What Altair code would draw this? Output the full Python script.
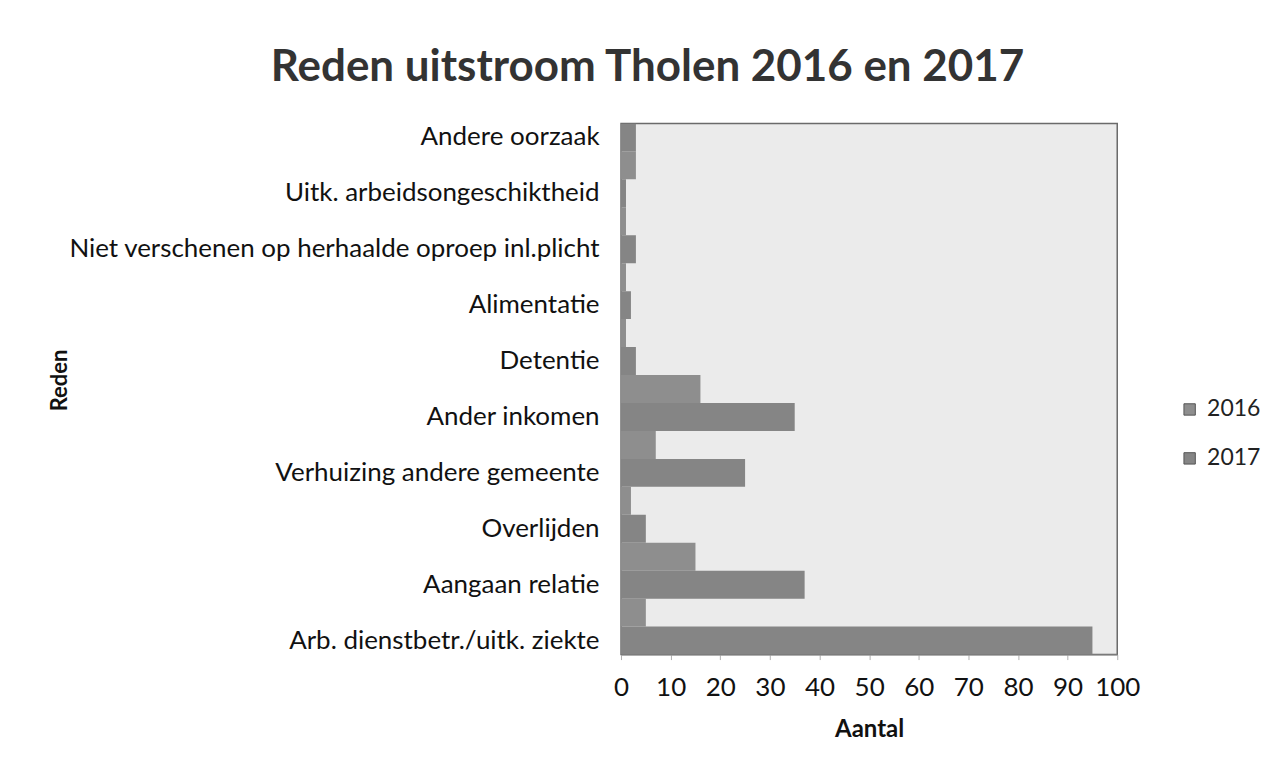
import altair as alt
import pandas as pd

categories = [
    "Andere oorzaak",
    "Uitk. arbeidsongeschiktheid",
    "Niet verschenen op herhaalde oproep inl.plicht",
    "Alimentatie",
    "Detentie",
    "Ander inkomen",
    "Verhuizing andere gemeente",
    "Overlijden",
    "Aangaan relatie",
    "Arb. dienstbetr./uitk. ziekte",
]
years = ["2016", "2017"]
values_2016 = [None, 3, 1, 1, 1, 16, 7, 2, 15, 5]
values_2017 = [3, 1, 3, 2, 3, 35, 25, 5, 37, 95]
x_ticks = list(range(0, 101, 10))
bar_colors = ["#8e8e8e", "#858585"]

rows = []
for c, a, b in zip(categories, values_2016, values_2017):
    rows.append({"Reden": c, "Jaar": "2016", "Aantal": a})
    rows.append({"Reden": c, "Jaar": "2017", "Aantal": b})
df = pd.DataFrame(rows)

W, H = 497, 532

bars = alt.Chart(df).mark_bar(clip=True).encode(
    x=alt.X(
        "Aantal:Q",
        scale=alt.Scale(domain=[0, 100], nice=False),
        axis=alt.Axis(
            values=x_ticks, title="Aantal", grid=False,
            labelFontSize=26, labelColor="#111111", labelPadding=15,
            tickSize=5, tickColor="#b0b0b0", domainColor="#909090",
            titleFontSize=24, titleFontWeight="bold", titleColor="#111111",
            titlePadding=17, labelFlush=False,
        ),
    ),
    y=alt.Y(
        "Reden:N",
        sort=categories,
        scale=alt.Scale(range=[-28, H], paddingInner=0, paddingOuter=0),
        axis=alt.Axis(
            title="Reden", domain=False, ticks=False, labelOffset=14,
            labelFontSize=26, labelColor="#111111", labelLimit=700,
            labelPadding=22, titleFontSize=22, titleFontWeight="bold",
            titleColor="#111111", titleX=-550, titleY=257,
            titleAngle=270, titleBaseline="bottom", titleAlign="center",
        ),
    ),
    yOffset=alt.YOffset("Jaar:N", sort=years,
                        scale=alt.Scale(paddingInner=0, paddingOuter=0)),
    color=alt.Color(
        "Jaar:N",
        scale=alt.Scale(domain=years, range=bar_colors),
        legend=alt.Legend(
            title=None, orient="none", legendX=558, legendY=275,
            symbolType="square", symbolSize=130, symbolStrokeColor="#555555",
            symbolStrokeWidth=1, labelFontSize=23, labelColor="#222222",
            rowPadding=25, labelOffset=6,
        ),
    ),
)

chart = bars.properties(
    width=W,
    height=H,
    title=alt.TitleParams(
        "Reden uitstroom Tholen 2016 en 2017",
        fontSize=44, fontWeight="bold", color="#333333",
        anchor="middle", dx=-222, offset=33,
    ),
    autosize=alt.AutoSizeParams(type="none"),
    padding={"left": 614, "top": 115, "right": 150, "bottom": 110},
).configure(
    font="Lato",
    background="white",
).configure_view(
    fill="#ebebeb", stroke="#6a6a6a", strokeWidth=1.5,
)

chart.save("out.html", embed_options={"renderer": "svg", "actions": False})
